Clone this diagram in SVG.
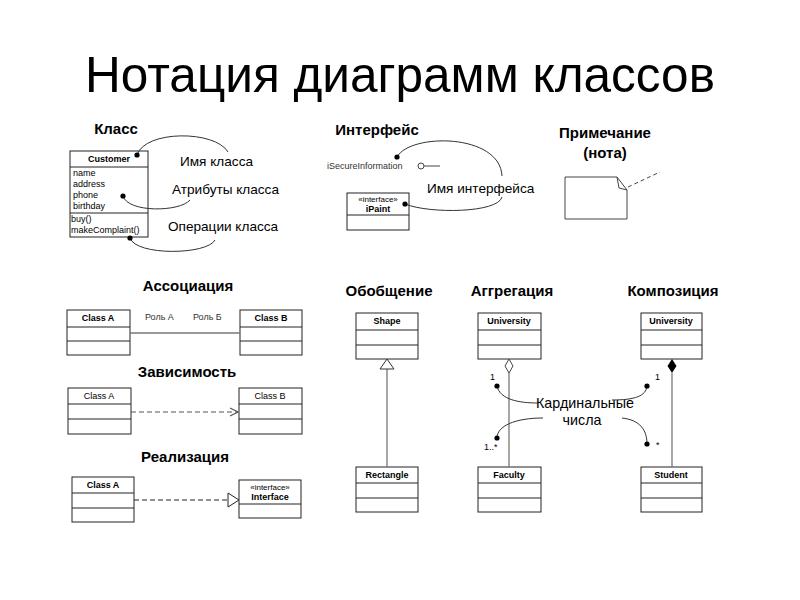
<svg xmlns="http://www.w3.org/2000/svg" width="800" height="600" viewBox="0 0 800 600">
<defs>
<style>
text{font-family:"Liberation Sans",Arial,sans-serif;fill:#000}
.title{font-size:49.5px}
.h{font-size:15px;font-weight:bold}
.lbl{font-size:13.6px}
.cn{font-size:9px;font-weight:bold}
.cr{font-size:9px}
.sm{font-size:9px;fill:#333}
.box{fill:#fff;stroke:#222;stroke-width:1}
.div{stroke:#222;stroke-width:1}
.rel{fill:none;stroke:#777;stroke-width:1.3}
.dash{fill:none;stroke:#555;stroke-width:1.2;stroke-dasharray:5,3}
.curve{fill:none;stroke:#333;stroke-width:1}
.dot{fill:#000}
</style>
<marker id="openArrow" markerWidth="10" markerHeight="10" refX="9" refY="5" orient="auto" markerUnits="userSpaceOnUse">
<path d="M1,1 L9,5 L1,9" fill="none" stroke="#555" stroke-width="1.2"/>
</marker>
</defs>
<rect width="800" height="600" fill="#fff"/>
<text class="title" x="400" y="92" text-anchor="middle">Нотация диаграмм классов</text>

<g id="headings">
<text class="h" x="116" y="134" text-anchor="middle">Класс</text>
<text class="h" x="377" y="135" text-anchor="middle">Интерфейс</text>
<text class="h" x="605" y="138" text-anchor="middle">Примечание</text>
<text class="h" x="605" y="158" text-anchor="middle">(нота)</text>
<text class="h" x="188" y="291" text-anchor="middle">Ассоциация</text>
<text class="h" x="187" y="377" text-anchor="middle">Зависимость</text>
<text class="h" x="185" y="462" text-anchor="middle">Реализация</text>
<text class="h" x="389" y="296" text-anchor="middle">Обобщение</text>
<text class="h" x="512" y="296" text-anchor="middle">Аггрегация</text>
<text class="h" x="673" y="296" text-anchor="middle">Композиция</text>
</g>

<g id="customer">
<rect class="box" x="70" y="151" width="78" height="86"/>
<line class="div" x1="70" y1="167" x2="148" y2="167"/>
<line class="div" x1="70" y1="213" x2="148" y2="213"/>
<text class="cn" x="109" y="162" text-anchor="middle">Customer</text>
<text class="cr" x="73" y="176">name</text>
<text class="cr" x="73" y="187">address</text>
<text class="cr" x="73" y="198">phone</text>
<text class="cr" x="73" y="209">birthday</text>
<text class="cr" x="71" y="222">buy()</text>
<text class="cr" x="71" y="233">makeComplaint()</text>
</g>

<g id="class-notes">
<text class="lbl" x="180" y="166">Имя класса</text>
<text class="lbl" x="172" y="194">Атрибуты класса</text>
<text class="lbl" x="168" y="231">Операции класса</text>
</g>

<g id="ifacename">
<text class="sm" x="327" y="169">iSecureInformation</text>
<circle cx="421" cy="166" r="3" fill="#fff" stroke="#444"/>
<line x1="424" y1="166" x2="440" y2="166" stroke="#444" stroke-width="1"/>
<text class="lbl" x="427" y="193">Имя интерфейса</text>
</g>

<g id="ipaint">
<rect class="box" x="347" y="193" width="62" height="37"/>
<line class="div" x1="347" y1="215" x2="409" y2="215"/>
<text class="cr" x="378" y="202" text-anchor="middle" style="font-size:8px">«interface»</text>
<text class="cn" x="378" y="212" text-anchor="middle">iPaint</text>
</g>

<g id="note">
<path class="box" d="M565,177 L617,177 L627,190 L627,219 L565,219 Z" style="stroke:#444"/>
<path d="M617,177 L619,188 L627,190" fill="none" stroke="#444" stroke-width="1"/>
<line x1="628" y1="187" x2="660" y2="172" stroke="#444" stroke-width="1" stroke-dasharray="4,3"/>
</g>

<g id="assocA">
<rect class="box" x="67" y="310" width="63" height="45"/>
<line class="div" x1="67" y1="327" x2="130" y2="327"/>
<line class="div" x1="67" y1="341" x2="130" y2="341"/>
<text class="cn" x="98" y="321" text-anchor="middle">Class A</text>
</g>
<g id="assocB">
<rect class="box" x="240" y="310" width="62" height="45"/>
<line class="div" x1="240" y1="327" x2="302" y2="327"/>
<line class="div" x1="240" y1="341" x2="302" y2="341"/>
<text class="cn" x="271" y="321" text-anchor="middle">Class B</text>
</g>

<g id="depA">
<rect class="box" x="68" y="388" width="63" height="46"/>
<line class="div" x1="68" y1="404" x2="131" y2="404"/>
<line class="div" x1="68" y1="419" x2="131" y2="419"/>
<text class="cr" x="99" y="399" text-anchor="middle">Class A</text>
</g>
<g id="depB">
<rect class="box" x="239" y="388" width="63" height="46"/>
<line class="div" x1="239" y1="404" x2="302" y2="404"/>
<line class="div" x1="239" y1="419" x2="302" y2="419"/>
<text class="cr" x="270" y="399" text-anchor="middle">Class B</text>
</g>

<g id="realA">
<rect class="box" x="72" y="477" width="62" height="45"/>
<line class="div" x1="72" y1="493" x2="134" y2="493"/>
<line class="div" x1="72" y1="508" x2="134" y2="508"/>
<text class="cn" x="103" y="488" text-anchor="middle">Class A</text>
</g>
<g id="realI">
<rect class="box" x="239" y="480" width="62" height="38"/>
<line class="div" x1="239" y1="504" x2="301" y2="504"/>
<text class="cr" x="270" y="490" text-anchor="middle" style="font-size:8px">«interface»</text>
<text class="cn" x="270" y="500" text-anchor="middle">Interface</text>
</g>

<g id="shape">
<rect class="box" x="356" y="313" width="62" height="46"/>
<line class="div" x1="356" y1="330" x2="418" y2="330"/>
<line class="div" x1="356" y1="345" x2="418" y2="345"/>
<text class="cn" x="387" y="324" text-anchor="middle">Shape</text>
</g>
<g id="rectangle">
<rect class="box" x="356" y="467" width="62" height="45"/>
<line class="div" x1="356" y1="483" x2="418" y2="483"/>
<line class="div" x1="356" y1="498" x2="418" y2="498"/>
<text class="cn" x="387" y="478" text-anchor="middle">Rectangle</text>
</g>

<g id="university1">
<rect class="box" x="478" y="313" width="63" height="46"/>
<line class="div" x1="478" y1="330" x2="541" y2="330"/>
<line class="div" x1="478" y1="345" x2="541" y2="345"/>
<text class="cn" x="509" y="324" text-anchor="middle">University</text>
</g>
<g id="faculty">
<rect class="box" x="478" y="467" width="63" height="45"/>
<line class="div" x1="478" y1="483" x2="541" y2="483"/>
<line class="div" x1="478" y1="498" x2="541" y2="498"/>
<text class="cn" x="509" y="478" text-anchor="middle">Faculty</text>
</g>

<g id="university2">
<rect class="box" x="641" y="313" width="61" height="46"/>
<line class="div" x1="641" y1="330" x2="702" y2="330"/>
<line class="div" x1="641" y1="345" x2="702" y2="345"/>
<text class="cn" x="671" y="324" text-anchor="middle">University</text>
</g>
<g id="student">
<rect class="box" x="641" y="467" width="61" height="45"/>
<line class="div" x1="641" y1="483" x2="702" y2="483"/>
<line class="div" x1="641" y1="498" x2="702" y2="498"/>
<text class="cn" x="671" y="478" text-anchor="middle">Student</text>
</g>

<g id="cardinal">
<text class="lbl" x="585" y="408" text-anchor="middle" style="font-size:14.3px">Кардинальные</text>
<text class="lbl" x="582" y="425" text-anchor="middle" style="font-size:14.3px">числа</text>
<text class="cr" x="490" y="380">1</text>
<text class="cr" x="484" y="450">1..*</text>
<text class="cr" x="655" y="380">1</text>
<text class="cr" x="656" y="448">*</text>
</g>

<g id="connectors">
<path class="curve" d="M137,155 C145,130 215,130 228,152"/>
<circle class="dot" cx="137" cy="155" r="2.6"/>
<path class="curve" d="M123,196 C128,213 180,212 190,200"/>
<circle class="dot" cx="123" cy="196" r="2.6"/>
<path class="curve" d="M130,238 C136,256 207,255 215,240"/>
<circle class="dot" cx="130" cy="238" r="2.6"/>
<path class="curve" d="M397,157 C410,133 500,133 502,176"/>
<circle class="dot" cx="397" cy="157" r="2.6"/>
<path class="curve" d="M405,204 C430,214 498,213 502,197"/>
<circle class="dot" cx="405" cy="204" r="2.6"/>
<line class="rel" x1="130" y1="333" x2="240" y2="333"/>
<text class="sm" x="145" y="320">Роль А</text>
<text class="sm" x="193" y="320">Роль Б</text>
<line class="dash" x1="131" y1="412" x2="238" y2="412" marker-end="url(#openArrow)"/>
<line x1="134" y1="500" x2="228" y2="500" stroke="#222" stroke-width="1.2" stroke-dasharray="5,3"/>
<path d="M228,493 L239,500 L228,507 Z" fill="#fff" stroke="#222" stroke-width="1"/>
<line class="rel" x1="387" y1="369" x2="387" y2="467"/>
<path d="M387,359 L394,369 L380,369 Z" fill="#fff" stroke="#333" stroke-width="1"/>
<line class="rel" x1="509" y1="373" x2="509" y2="467"/>
<path d="M509,359 L513,366 L509,373 L505,366 Z" fill="#fff" stroke="#444" stroke-width="1"/>
<line class="rel" x1="672" y1="373" x2="672" y2="467"/>
<path d="M672,359 L676.5,366 L672,373 L667.5,366 Z" fill="#000"/>
<path class="curve" d="M497,386 C500,400 520,403 538,403"/>
<circle class="dot" cx="497" cy="386" r="2.6"/>
<path class="curve" d="M543,418 C515,418 497,426 497,438"/>
<circle class="dot" cx="497" cy="438" r="2.6"/>
<path class="curve" d="M612,400 C635,400 646,396 647,386"/>
<circle class="dot" cx="647" cy="386" r="2.6"/>
<path class="curve" d="M622,418 C640,420 647,430 647,444"/>
<circle class="dot" cx="647" cy="444" r="2.6"/>
</g>
</svg>
